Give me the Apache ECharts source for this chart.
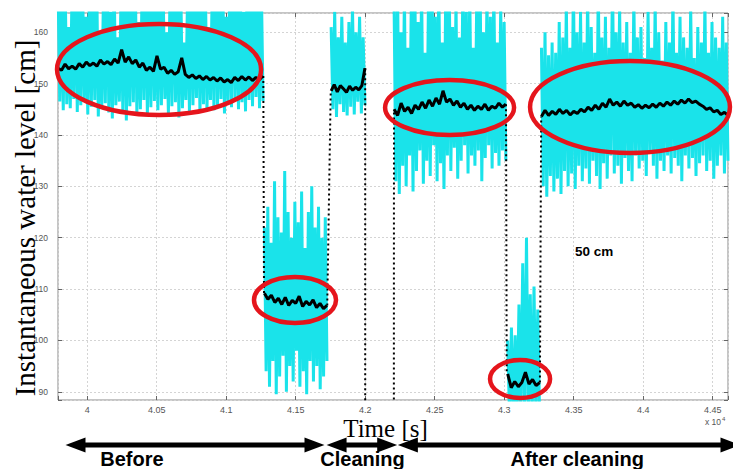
<!DOCTYPE html>
<html><head><meta charset="utf-8">
<script src="https://cdn.jsdelivr.net/npm/echarts@6/dist/echarts.min.js"></script>
<style>html,body{margin:0;padding:0;background:#fff}#c{width:733px;height:469px}</style>
</head><body><div id="c"></div>
<script>
// Time axis in units of 10^4 s
const xRange = [3.979, 4.461];
const yRange = [88.4, 163.75];
const xTickStep = 0.05;
const yTickStep = 10;

// Segment time spans (x 10^4 s)
const spanBefore = [3.979, 4.1265];
const spanLow1 = [4.1275, 4.1725];
const spanCleaning = [4.1755, 4.1998];
const spanAfter1 = [4.2208, 4.3012];
const spanLow2 = [4.3025, 4.3255];
const spanAfter2 = [4.3268, 4.461];

// Raw signal (cyan) upper and lower excursions per segment [cm]
const rawHighBefore = [170,166,172,161,168,174,165,170,163,171,167,173,160,169,175,164,171,159,168,172,166,170,174,162,169,173,167,171,165,172,168,160,170,174,166,171,158,169,173,165,170,167,172,161,168,174,166,171,163,169,173,167,170,164,172,168,171,166,170];
const rawLowBefore = [146.5,144.8,146.0,145.2,147.0,144.5,145.8,146.6,144.0,145.5,146.8,143.6,145.2,146.2,144.4,143.2,145.8,146.5,144.6,142.8,145.6,146.4,144.2,145.0,146.8,143.8,145.4,146.6,144.8,145.8,147.0,144.2,145.6,146.4,143.4,145.2,146.8,144.6,145.8,147.2,144.4,146.0,145.0,146.8,144.8,145.6,147.0,144.2,146.2,145.4,147.2,145.0,146.4,144.6,146.8,145.6,147.4,145.2,146.6];
const rawHighLow1 = [122,126,119,131,124,121,133,125,120,127,123,129,118,125,130,122,126,120,124];
const rawLowLow1 = [94,91,96,89.5,93,97,90,95,92,98,91,94,89.5,96,92,95,90.5,93,96];
const rawHighCleaning = [161,164,159,163,158,162,165,160,163,159];
const rawLowCleaning = [145,143.5,146,144.5,143.8,145.5,144,146.5,144.2,145.8];
const rawHighAfter1 = [165,170,160,168,157,166,172,162,169,156,167,171,163,170,158,168,173,161,166,159,170,164,168,157,165,171,160,167,163,169,158,165,162];
const rawLowAfter1 = [131,128.5,134,130,136,129,133,137,130.5,135,132,138,131,134.5,129.5,136,133,137.5,131.5,135,138,132.5,136,134,137,131,135.5,138,133.5,136.5,134,137,135];
const rawHighLow2 = [100,102.5,101,107,115,120,109,110.5,106];
const rawLowLow2 = [85,85,85,85,85,85,85,85,85];
const rawHighAfter2 = [157,160,155.5,158,156,162,159,166,157,171,160,164,158,168,161,156,170,159,163,157,172,160,165,158,162,156,167,159,161,155,164,157,166,160,154.5,162,158,168,156,163,159,157,165,155,161,158,166,156,162,159,157,163,158];
const rawLowAfter2 = [130,128,132,129,131.5,128.5,133,130,132.5,129.5,134,131,133.5,130.5,135,132,129.5,134.5,131.5,136,132.5,134,130.5,135.5,133,131,136,133.5,135,132,136.5,134,131.5,135,133,136,132.5,135.5,134,131,136,133.5,135.5,132,134.5,136,133,135,131.5,134,136,132.5,135];

// Averaged level (black) per segment [cm]
const meanBefore = [153.0,152.6,153.8,152.9,153.4,152.8,153.9,153.2,154.2,153.5,154.0,153.4,154.6,153.8,154.3,153.7,154.8,154.0,156.6,154.2,155.2,153.9,154.6,153.2,154.0,152.6,153.2,152.4,155.4,152.8,153.2,152.0,152.6,151.8,152.3,155.0,151.8,151.2,151.7,151.0,151.5,150.8,151.4,150.7,151.2,150.5,151.1,150.3,150.8,150.2,151.2,150.6,151.4,150.7,151.3,150.6,151.2,150.8,151.5];
const meanLow1 = [109.2,108.0,108.8,107.4,108.2,107.0,108.4,106.8,107.8,107.2,108.6,106.6,107.6,106.9,107.9,106.4,107.2,106.2,106.8];
const meanCleaning = [148.6,149.8,148.4,149.6,149.0,148.3,149.5,148.7,149.3,148.8,149.6,153.0];
const meanAfter1 = [145.0,143.8,146.2,144.6,145.4,144.2,145.8,145.0,146.4,145.2,146.8,145.6,147.2,146.0,148.6,146.4,147.0,145.8,146.6,145.4,146.2,145.0,145.8,144.8,145.6,145.0,146.0,144.8,145.6,145.2,146.2,145.4,146.0];
const meanLow2 = [93.5,90.8,92.0,91.0,91.8,93.8,91.5,92.4,91.2,91.8];
const meanAfter2 = [143.6,144.8,143.8,144.6,144.0,145.0,144.2,144.8,143.9,144.6,144.2,145.0,144.5,145.4,144.8,145.8,145.0,146.2,145.4,147.0,145.8,146.4,145.6,146.6,145.8,146.2,145.4,145.9,145.2,145.8,145.3,146.0,145.4,146.2,145.6,146.4,145.8,146.6,146.0,146.8,146.2,147.0,146.3,146.6,146.0,145.6,145.0,145.3,144.5,144.8,144.0,144.4,143.8];

// Jumps between segments (time pair, level pair)
const jumpTimes = [[4.1267,4.1272],[4.1727,4.1752],[4.2,4.2],[4.2206,4.2207],[4.3013,4.3018],[4.3257,4.3266]];
const jumpLevels = [[151.5,109.2],[106.8,148.6],[153.0,70],[70,145.0],[146.0,93.5],[91.8,143.6]];

// Annotations
const ellipseX = [4.0517, 4.1495, 4.2607, 4.3905, 4.3114];
const ellipseY = [152.75, 107.87, 145.35, 145.45, 92.49];
const ellipseHalfW = [0.0734, 0.0295, 0.0464, 0.0719, 0.0216];
const ellipseHalfH = [8.86, 4.48, 5.35, 8.96, 3.70];
const noteText = '50 cm';
const notePos = [4.3509, 117.3];
const phaseNames = ['Before', 'Cleaning', 'After cleaning'];
const phaseSpans = [[3.9844, 4.1707], [4.1722, 4.2230], [4.2235, 4.470]];
const phaseLabelX = [4.0322, 4.1981, 4.3525];

function zig(span, hi, lo) {
  const n = Math.min(hi.length, lo.length);
  const step = (span[1] - span[0]) / (n - 0.5);
  const out = [];
  for (let i = 0; i < n; i++) {
    out.push([span[0] + i * step, hi[i]]);
    out.push([span[0] + (i + 0.5) * step, lo[i]]);
  }
  return out;
}
function spread(span, v) {
  const n = v.length;
  return v.map((y, i) => [span[0] + i * (span[1] - span[0]) / (n - 1), y]);
}
function joinSegs(segs) {
  const out = [];
  segs.forEach((s, k) => { if (k) out.push([s[0][0], '-']); out.push(...s); });
  return out;
}
const rawData = joinSegs([
  zig(spanBefore, rawHighBefore, rawLowBefore),
  zig(spanLow1, rawHighLow1, rawLowLow1),
  zig(spanCleaning, rawHighCleaning, rawLowCleaning),
  zig(spanAfter1, rawHighAfter1, rawLowAfter1),
  zig(spanLow2, rawHighLow2, rawLowLow2),
  zig(spanAfter2, rawHighAfter2, rawLowAfter2)
]);
const meanData = joinSegs([
  spread(spanBefore, meanBefore), spread(spanLow1, meanLow1), spread(spanCleaning, meanCleaning),
  spread(spanAfter1, meanAfter1), spread(spanLow2, meanLow2), spread(spanAfter2, meanAfter2)
]);
const jumpData = joinSegs(jumpTimes.map((t, i) => [[t[0], jumpLevels[i][0]], [t[1], jumpLevels[i][1]]]));

const near = (v, s) => Math.abs(v / s - Math.round(v / s)) < 1e-6;
const tickFont = 'Liberation Sans, Arial, sans-serif';
const serif = 'Liberation Serif, Times New Roman, serif';
const gridColor = '#d4d4d4';
const boxColor = '#8a8a8a';

const chart = echarts.init(document.getElementById('c'), null, {renderer: 'svg'});
const xBase = {
  type: 'value', min: xRange[0], max: xRange[1], splitNumber: 10,
  minInterval: xTickStep, maxInterval: xTickStep,
  axisLine: {show: false},
  axisTick: {show: true, inside: true, length: 4, lineStyle: {color: '#666'}}
};
const yBase = {
  type: 'value', min: yRange[0], max: yRange[1], splitNumber: 7,
  minInterval: yTickStep, maxInterval: yTickStep,
  axisLine: {show: false},
  axisTick: {show: true, inside: true, length: 4, lineStyle: {color: '#666'}}
};
chart.setOption({
  animation: false,
  backgroundColor: '#fff',
  grid: {left: 58, right: 5, top: 13, bottom: 69, containLabel: false, outerBoundsMode: 'none',
    show: true, borderColor: boxColor, borderWidth: 1, backgroundColor: 'transparent'},
  xAxis: [
    Object.assign({}, xBase, {
      position: 'bottom',
      axisLabel: {fontSize: 9, color: '#555', fontFamily: tickFont, margin: 5,
        formatter: v => near(v, xTickStep) ? String(+v.toFixed(2)) : ''},
      splitLine: {show: true, lineStyle: {color: gridColor, type: [2, 2], width: 1}}
    }),
    Object.assign({}, xBase, {position: 'top', axisLabel: {show: false}, splitLine: {show: false}})
  ],
  yAxis: [
    Object.assign({}, yBase, {
      position: 'left',
      axisLabel: {fontSize: 8.5, color: '#555', fontFamily: tickFont, margin: 10,
        formatter: v => near(v, yTickStep) ? String(Math.round(v)) : ''},
      splitLine: {show: true, lineStyle: {color: gridColor, type: [2, 2], width: 1}}
    }),
    Object.assign({}, yBase, {position: 'right', axisLabel: {show: false}, splitLine: {show: false}})
  ],
  series: [
    {name: 'raw', type: 'line', data: rawData, showSymbol: false, connectNulls: false,
      lineStyle: {color: '#1ae3ea', width: 3}, z: 2, silent: true},
    {name: 'mean', type: 'line', data: meanData, showSymbol: false, connectNulls: false,
      lineStyle: {color: '#000', width: 3}, z: 4, silent: true},
    {name: 'jump', type: 'line', data: jumpData, showSymbol: false, connectNulls: false,
      lineStyle: {color: '#000', width: 2, type: [2, 3]}, z: 3, silent: true}
  ]
});

function px(x, y) { return chart.convertToPixel({gridIndex: 0}, [x, y]); }
const g = [];
ellipseX.forEach((cx, i) => {
  const c = px(cx, ellipseY[i]);
  const e = px(cx + ellipseHalfW[i], ellipseY[i] + ellipseHalfH[i]);
  g.push({type: 'ellipse', z: 100, shape: {cx: c[0], cy: c[1], rx: Math.abs(e[0] - c[0]), ry: Math.abs(c[1] - e[1])},
    style: {fill: null, stroke: '#e5151c', lineWidth: 4.5}});
});
const np = px(notePos[0], notePos[1]);
g.push({type: 'text', z: 100, x: np[0], y: np[1], style: {text: noteText, font: 'bold 13.5px Liberation Sans, Arial, sans-serif', fill: '#000', align: 'left', verticalAlign: 'middle', textAlign: 'left', textVerticalAlign: 'middle'}});
// axis titles and exponent
g.push({type: 'text', z: 100, x: 25, y: 218, rotation: Math.PI / 2, style: {text: 'Instantaneous water level [cm]', font: '29px ' + serif, fill: '#000', align: 'center', verticalAlign: 'middle', textAlign: 'center', textVerticalAlign: 'middle'}});
g.push({type: 'text', z: 100, x: 385.5, y: 428, style: {text: 'Time [s]', font: '25px ' + serif, fill: '#000', align: 'center', verticalAlign: 'middle', textAlign: 'center', textVerticalAlign: 'middle'}});
g.push({type: 'text', z: 100, x: 705, y: 422, style: {text: '{a|x 10}{b|4}', verticalAlign: 'middle', textVerticalAlign: 'middle',
  rich: {a: {fontSize: 8.5, fill: '#555', color: '#555', fontFamily: tickFont}, b: {fontSize: 6, color: '#555', fill: '#555', fontFamily: tickFont, verticalAlign: 'top', padding: [0, 0, 6, 1]}}}});
// phase arrows
const ay = 445;
phaseSpans.forEach((s, i) => {
  const x0 = px(s[0], yRange[0])[0], x1 = px(s[1], yRange[0])[0];
  g.push({type: 'line', z: 100, shape: {x1: x0 + 15, y1: ay, x2: x1 - 15, y2: ay}, style: {stroke: '#000', lineWidth: 5}});
  g.push({type: 'polygon', z: 100, shape: {points: [[x0, ay], [x0 + 20, ay - 7.5], [x0 + 20, ay + 7.5]]}, style: {fill: '#000'}});
  g.push({type: 'polygon', z: 100, shape: {points: [[x1, ay], [x1 - 20, ay - 7.5], [x1 - 20, ay + 7.5]]}, style: {fill: '#000'}});
  const lx = px(phaseLabelX[i], yRange[0])[0];
  g.push({type: 'text', z: 100, x: lx, y: 459, style: {text: phaseNames[i], font: 'bold 20px Liberation Sans, Arial, sans-serif', fill: '#000', align: 'center', verticalAlign: 'middle', textAlign: 'center', textVerticalAlign: 'middle'}});
});
chart.setOption({graphic: g});
</script>
</body></html>
